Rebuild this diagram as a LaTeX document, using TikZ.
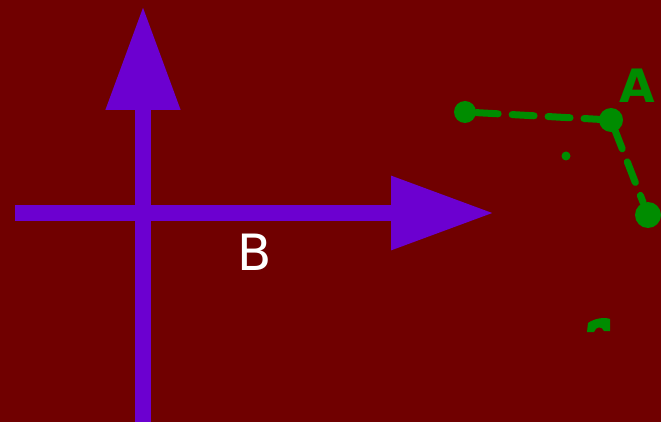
\documentclass[tikz,border=0pt]{standalone}
\usepackage{fontspec}
\setsansfont{DejaVu Sans}
\usepackage{xcolor}
\usepackage{tikz}
\usetikzlibrary{arrows.meta, positioning}
\definecolor{bgred}{RGB}{112,0,0}
\definecolor{axispurple}{RGB}{108,0,208}
\definecolor{pathgreen}{RGB}{0,140,0}

\begin{document}
\begin{tikzpicture}[x=1pt, y=-1pt,
        axis/.style={draw=axispurple, line width=16pt},
        route/.style={draw=pathgreen, line width=7pt, dash pattern=on 22pt off 14pt, line cap=round, line join=round},
        spot/.style={circle, fill=pathgreen, inner sep=0pt, minimum size=#1}]
        \fill[bgred] (0,0) rectangle (661,422);
        \useasboundingbox (0,0) rectangle (661,422);

        \coordinate (xstart) at (15,213);
        \coordinate (xend)   at (494,213);
        \coordinate (ystart) at (143,422);
        \coordinate (yend)   at (143,6);
        \draw[axis, -{Triangle[length=103pt, width=70pt]}] (xstart) -- (xend);
        \draw[axis, -{Triangle[length=104pt, width=70.5pt]}] (ystart) -- (yend);
        \node[white, font=\sffamily\fontsize{50}{50}\selectfont] (lblB) at (255,252) {B};

        \node[spot=22pt] (start) at (465,112) {};
        \node[spot=26pt] (goal)  at (648,215) {};
        \node[spot=24pt] (bend)  at (611,120) {};
        \draw[route] (start) -- (bend.center) -- (goal);
        \node[pathgreen, font=\sffamily\bfseries\fontsize{46}{46}\selectfont] (lblA) at (637,86) {A};
        \node[spot=9pt] (mark) at (566,156) {};
        \fill[pathgreen] (587,332) -- (588,323) .. controls (595,318) and (605,317) .. (610,319) -- (610,331) -- (604,331) .. controls (602,326) and (596,326) .. (594,332) -- cycle;

    \end{tikzpicture}
\end{document}
